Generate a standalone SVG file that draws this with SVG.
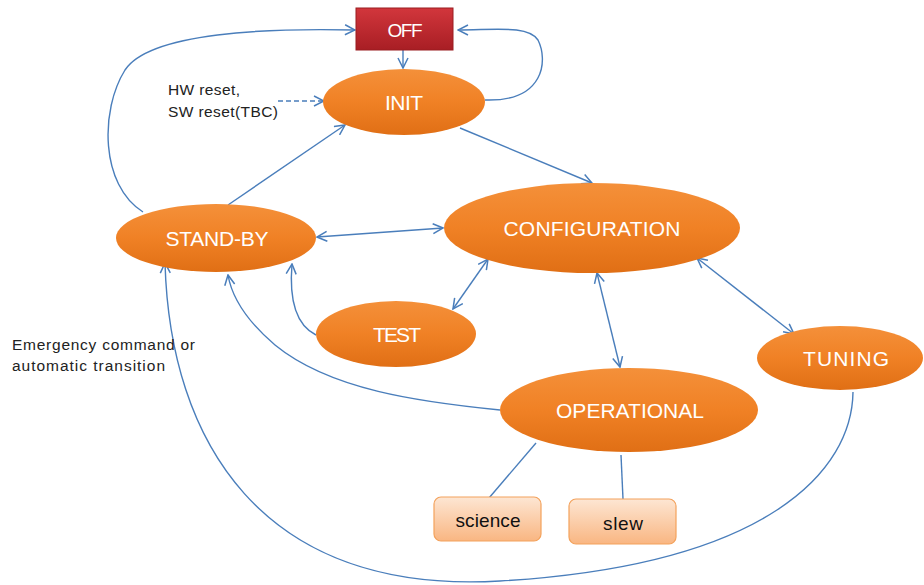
<svg xmlns="http://www.w3.org/2000/svg" width="924" height="585" viewBox="0 0 924 585">
<style>
.c{fill:none;stroke:#4a7ebb;stroke-width:1.4}
.lbl{font-family:"Liberation Sans",Arial,sans-serif;font-size:21px;fill:#fff;text-anchor:middle}
.t{font-family:"Liberation Sans",Arial,sans-serif;font-size:15.5px;fill:#222}
.b{font-family:"Liberation Sans",Arial,sans-serif;font-size:19px;fill:#111;text-anchor:middle}
.e{fill:url(#og)}
</style>
<defs>
<linearGradient id="og" x1="0" y1="0" x2="0" y2="1">
<stop offset="0" stop-color="#f4903a"/>
<stop offset="0.5" stop-color="#f08125"/>
<stop offset="1" stop-color="#e06f15"/>
</linearGradient>
<linearGradient id="rg" x1="0" y1="0" x2="0" y2="1">
<stop offset="0" stop-color="#d2363c"/>
<stop offset="1" stop-color="#a81e24"/>
</linearGradient>
<linearGradient id="bg" x1="0" y1="0" x2="0" y2="1">
<stop offset="0" stop-color="#fde6d3"/>
<stop offset="1" stop-color="#f9b682"/>
</linearGradient>
<marker id="a" viewBox="0 0 12 12" refX="11" refY="6" markerWidth="12" markerHeight="12" markerUnits="userSpaceOnUse" orient="auto-start-reverse">
<path d="M1,1 L11,6 L1,11" fill="none" stroke="#4a7ebb" stroke-width="1.5"/>
</marker>
</defs>
<g id="connectors">
<path class="c" d="M403,50 L403,68" marker-end="url(#a)"/>
<path class="c" d="M485,100 C545,102 548,60 538,40 C528,25 495,30 458,30" marker-end="url(#a)"/>
<path class="c" d="M143,212 C100,185 100,110 125,70 C150,32 270,28 355,30" marker-end="url(#a)"/>
<path class="c" d="M278,101 L324,101" stroke-dasharray="5,3" marker-end="url(#a)"/>
<path class="c" d="M228,205 L345,125" marker-end="url(#a)"/>
<path class="c" d="M460,128 L592,183" marker-end="url(#a)"/>
<path class="c" d="M317,237 L443,228" marker-start="url(#a)" marker-end="url(#a)"/>
<path class="c" d="M453,309 L488,259" marker-start="url(#a)" marker-end="url(#a)"/>
<path class="c" d="M316,335 C296,325 289,300 292,264" marker-end="url(#a)"/>
<path class="c" d="M597,273 L620,367" marker-start="url(#a)" marker-end="url(#a)"/>
<path class="c" d="M697,258 L794,334" marker-start="url(#a)" marker-end="url(#a)"/>
<path class="c" d="M500,410 C420,402 330,390 275,345 C248,322 232,298 228,275" marker-end="url(#a)"/>
<path class="c" d="M853,392 C852,470 770,565 500,581 C260,595 170,440 165,263" marker-end="url(#a)"/>
<path class="c" d="M536,443 L489,498"/>
<path class="c" d="M621,455 L623,499"/>
</g>
<g id="off">
<rect x="356" y="8" width="97" height="42" fill="url(#rg)" stroke="#9a1c20" stroke-width="1"/>
<text class="lbl" x="405" y="37" style="font-size:19px" textLength="35">OFF</text>
</g>
<g id="init">
<ellipse class="e" cx="404" cy="102" rx="81" ry="33"/>
<text class="lbl" x="404" y="110" textLength="38">INIT</text>
</g>
<g id="configuration">
<ellipse class="e" cx="592" cy="228" rx="148" ry="45"/>
<text class="lbl" x="592" y="236" textLength="177">CONFIGURATION</text>
</g>
<g id="standby">
<ellipse class="e" cx="216" cy="238" rx="100" ry="34"/>
<text class="lbl" x="217" y="246" textLength="103">STAND-BY</text>
</g>
<g id="test">
<ellipse class="e" cx="396" cy="334" rx="80" ry="33"/>
<text class="lbl" x="397" y="342" textLength="48">TEST</text>
</g>
<g id="operational">
<ellipse class="e" cx="629" cy="410" rx="129" ry="42"/>
<text class="lbl" x="630" y="418" textLength="148">OPERATIONAL</text>
</g>
<g id="tuning">
<ellipse class="e" cx="840" cy="358" rx="83" ry="32"/>
<text class="lbl" x="846" y="366" textLength="86">TUNING</text>
</g>
<g id="science">
<rect x="434" y="497" width="107" height="44" rx="7" fill="url(#bg)" stroke="#f3a25c" stroke-width="1.2"/>
<text class="b" x="488" y="527" textLength="65">science</text>
</g>
<g id="slew">
<rect x="569" y="499" width="107" height="45" rx="7" fill="url(#bg)" stroke="#f3a25c" stroke-width="1.2"/>
<text class="b" x="623" y="530" textLength="40">slew</text>
</g>
<g id="labels">
<text class="t" x="168" y="95" textLength="72">HW reset,</text>
<text class="t" x="168" y="117" textLength="110">SW reset(TBC)</text>
<text class="t" x="12" y="350" textLength="183">Emergency command or</text>
<text class="t" x="12" y="371" textLength="153">automatic transition</text>
</g>
</svg>
